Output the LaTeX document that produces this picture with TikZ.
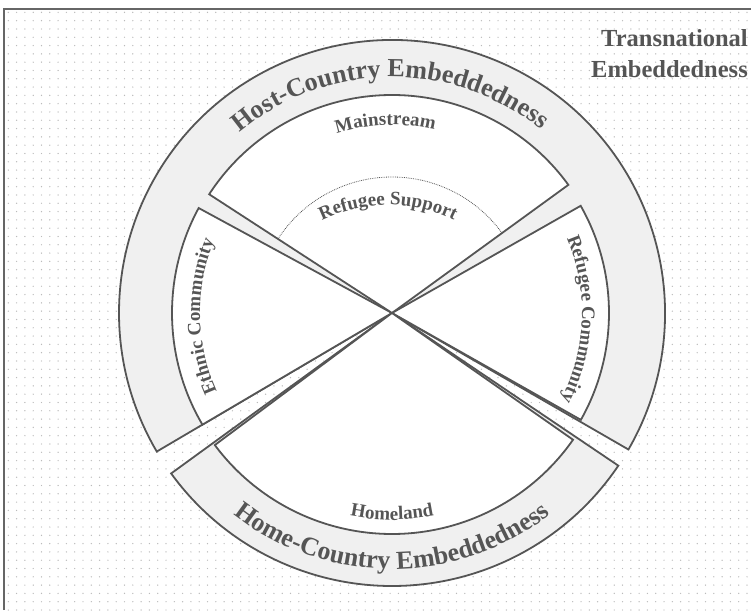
\documentclass[tikz,border=0pt]{standalone}
\usepackage{fontspec}
\setmainfont{Liberation Serif}
\usetikzlibrary{decorations.text,patterns.meta}
\definecolor{ringfill}{HTML}{F0F0F0}
\definecolor{edgec}{HTML}{555555}
\definecolor{ink}{HTML}{555555}
\definecolor{dotc}{HTML}{BBBBBB}
\definecolor{framec}{HTML}{666666}
\newcommand{\outerfont}{\fontsize{26}{30}\selectfont\bfseries\color{ink}}
\newcommand{\innerfont}{\fontsize{19}{22}\selectfont\bfseries\color{ink}}
\newcommand{\tnfont}{\fontsize{24.5}{29}\selectfont\bfseries}
\begin{document}
\begin{tikzpicture}[x=1pt,y=1pt,
  ring/.style={fill=ringfill, draw=edgec, line width=1.8pt},
  innersec/.style={fill=white, draw=edgec, line width=1.8pt},
  tnlabel/.style={anchor=base east, font=\tnfont, text=ink, inner sep=0pt}]
\useasboundingbox (-392,-297) rectangle (359,313);
\fill[white] (-392,-297) rectangle (359,313);
\fill[pattern={Dots[distance=8.3pt, radius=0.7pt]}, pattern color=dotc] (-388,-297) rectangle (359,304);
\draw[framec, line width=1.5pt] (-388,-297) -- (-388,304) -- (359,304);

\coordinate (C) at (0,0);
% outer rings
\path[ring] (C) -- (-30:273pt) arc[start angle=-30, end angle=210.5, radius=273pt] -- cycle;
\path[ring] (C) -- (216:273pt) arc[start angle=216, end angle=326, radius=273pt] -- cycle;
% inner sectors
\path[innersec] (C) -- (151.5:220pt) arc[start angle=151.5, end angle=210.5, radius=220pt] -- cycle;
\path[innersec] (C) -- (36:218pt) arc[start angle=36, end angle=147, radius=218pt] -- cycle;
\path[innersec] (C) -- (-29.5:217pt) arc[start angle=-29.5, end angle=29.6, radius=217pt] -- cycle;
\path[innersec] (C) -- (216.7:221pt) arc[start angle=216.7, end angle=325, radius=221pt] -- cycle;
% refugee support dotted arc
\draw[edgec, densely dotted, line width=0.8pt] (36:136pt) arc[start angle=36, end angle=147, radius=136pt];

% curved labels
\path[decorate, decoration={text along path, text align=center,
  text={|\outerfont|Host-Country Embeddedness}}]
  (150:236pt) arc[start angle=150, end angle=31, radius=236pt];
\path[decorate, decoration={text along path, text align=center,
  text={|\outerfont|Home-Country Embeddedness}}]
  (220:256pt) arc[start angle=220, end angle=320, radius=256pt];
\path[decorate, decoration={text along path, text align=center,
  text={|\innerfont|Mainstream}}]
  (132:188pt) arc[start angle=132, end angle=52, radius=188pt];
\path[decorate, decoration={text along path, text align=center,
  text={|\innerfont|Ethnic Community}}]
  (226:192pt) arc[start angle=226, end angle=136, radius=192pt];
\path[decorate, decoration={text along path, text align=center,
  text={|\innerfont|Refugee Community}}]
  (43:190pt) arc[start angle=43, end angle=-47, radius=190pt];
\path[decorate, decoration={text along path, text align=center,
  text={|\innerfont|Homeland}}]
  (245:207pt) arc[start angle=245, end angle=295, radius=207pt];
\path[decorate, decoration={text along path, text align=center,
  text={|\innerfont|Refugee Support}}]
  ([shift={(-4pt,-42pt)}]125:150pt) arc[start angle=125, end angle=55, radius=150pt];

\node[tnlabel] (tn1) at (356,266) {Transnational};
\node[tnlabel] (tn2) at (356,235) {Embeddedness};
\end{tikzpicture}
\end{document}
